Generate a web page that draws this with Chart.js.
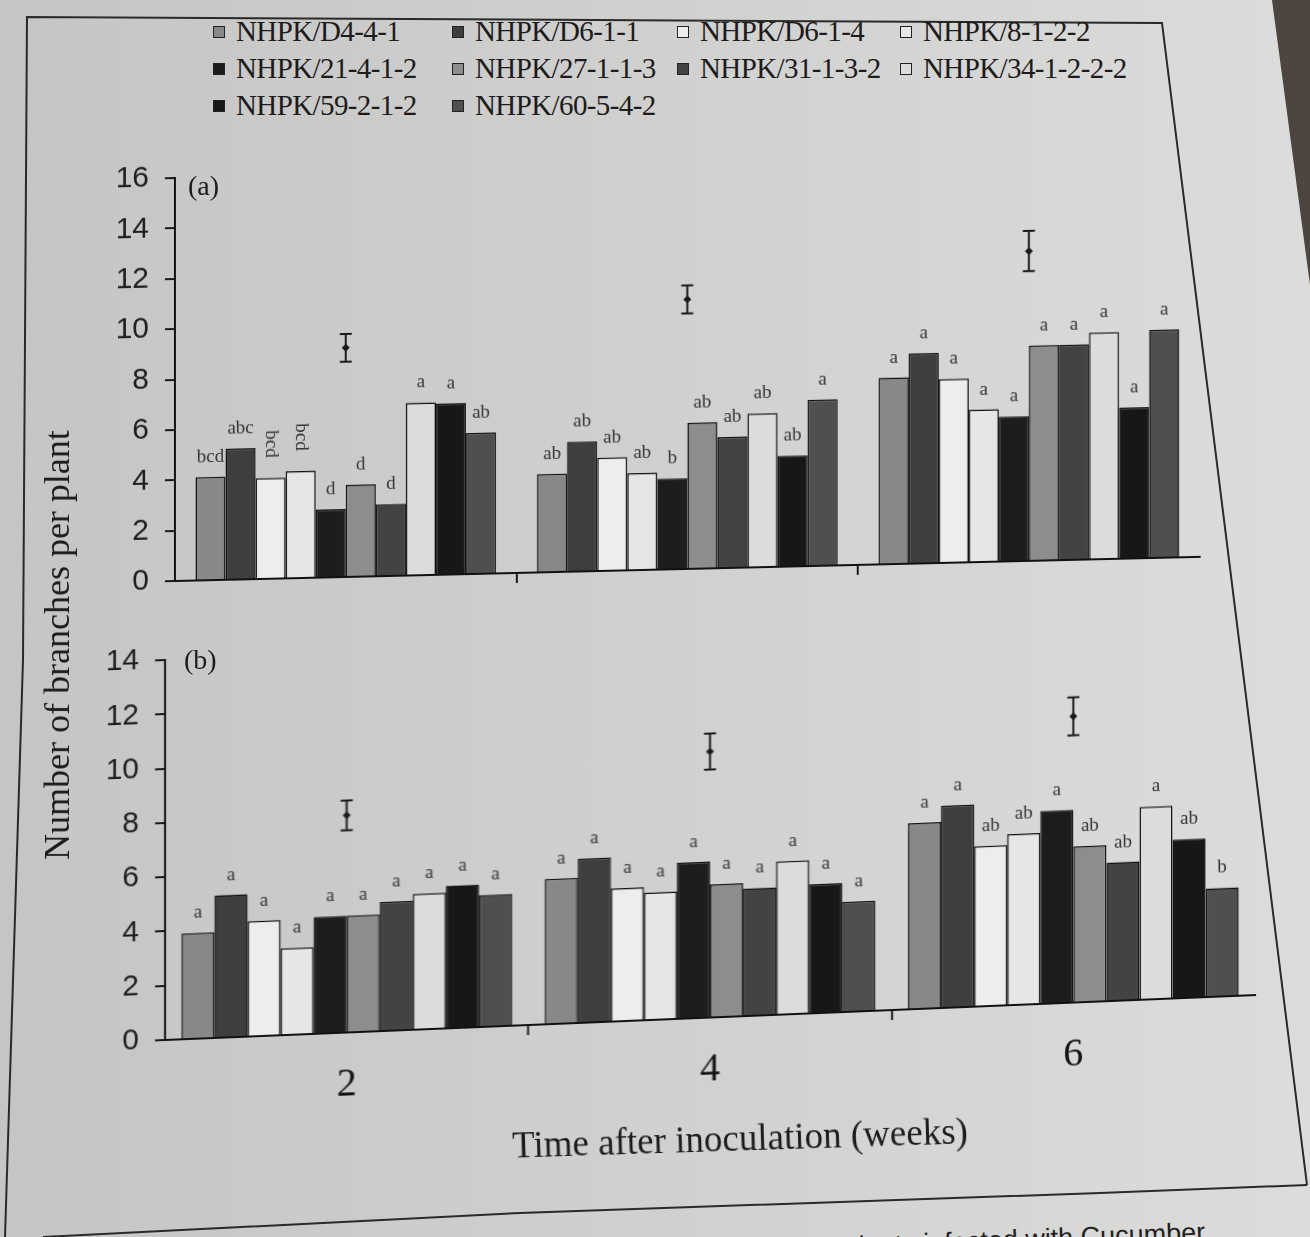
<!DOCTYPE html>
<html>
<head>
<meta charset="utf-8">
<script src="https://cdn.jsdelivr.net/npm/chart.js@4.4.0/dist/chart.umd.min.js"></script>
<style>
    html, body { margin: 0; padding: 0; }
    body {
        width: 1310px; height: 1237px; overflow: hidden; position: relative;
        background: linear-gradient(90deg, #c5c5c3 0%, #cfcfcd 45%, #dcdcda 100%);
        font-family: "Liberation Serif", serif; color: #1c1c1c;
    }
    #frame { position: absolute; left: 0; top: 0; }
    .legend {
        position: absolute; left: 213px; top: 13px;
        display: grid; grid-template-columns: 239px 225px 223px 260px; grid-auto-rows: 37px;
        font-size: 29px;
    }
    .legend .item { display: flex; align-items: center; white-space: nowrap; letter-spacing: -0.6px; }
    .legend .sw { width: 10px; height: 10px; border: 1.5px solid #222; margin-right: 11px; flex: none; }
    .panel-label { position: absolute; font-size: 28px; }
    #wrapA { position: absolute; left: 0; top: 144px; width: 1230px; height: 471px;
        transform: skewY(-1.35deg); transform-origin: 175px 437px; }
    #wrapB { position: absolute; left: 0; top: 626px; width: 1290px; height: 499px;
        transform: skewY(-2.36deg); transform-origin: 165px 414px; }
    #ytitle { position: absolute; left: 57px; top: 645px; transform: translate(-50%, -50%) rotate(-90deg);
        font-size: 36px; white-space: nowrap; }
    #xtitle { position: absolute; left: 740px; top: 1138px; transform: translate(-50%, -50%) rotate(-1.8deg);
        font-size: 37px; white-space: nowrap; }
    #caption { position: absolute; right: 105px; top: 1219px; font-family: "Liberation Sans", sans-serif;
        font-size: 27px; line-height: 1; white-space: nowrap; color: #222;
        transform: rotate(-2.3deg); transform-origin: right top; }
</style>
</head>
<body>
<svg id="frame" width="1310" height="1237">
    <polygon points="1272,0 1310,0 1310,285" fill="#4d4640"/>
    <polyline points="5,1237 23,660 27,17 1162,23 1307,1185" fill="none" stroke="#2a2a2a" stroke-width="2"/>
    <polyline points="43,1237 520,1213 1100,1193 1307,1185" fill="none" stroke="#2a2a2a" stroke-width="2"/>
</svg>

<div class="legend" id="legend"></div>

<div id="wrapA"><canvas id="chartA" width="1230" height="471"></canvas></div>
<div id="wrapB"><canvas id="chartB" width="1290" height="499"></canvas></div>

<div class="panel-label" style="left:188px; top:170px;">(a)</div>
<div class="panel-label" style="left:184px; top:644px;">(b)</div>
<div id="ytitle">Number of branches per plant</div>
<div id="xtitle">Time after inoculation (weeks)</div>
<div id="caption">plants infected with Cucumber</div>

<script>
const weeks = ['2', '4', '6'];
const isolates = ['NHPK/D4-4-1', 'NHPK/D6-1-1', 'NHPK/D6-1-4', 'NHPK/8-1-2-2', 'NHPK/21-4-1-2',
    'NHPK/27-1-1-3', 'NHPK/31-1-3-2', 'NHPK/34-1-2-2-2', 'NHPK/59-2-1-2', 'NHPK/60-5-4-2'];

// panel (a): one array per week, one value per isolate
const branchesA_w2 = [4.1, 5.2, 4.0, 4.25, 2.7, 3.65, 2.85, 6.85, 6.8, 5.6];
const branchesA_w4 = [3.9, 5.15, 4.5, 3.85, 3.6, 5.8, 5.2, 6.1, 4.4, 6.6];
const branchesA_w6 = [7.4, 8.35, 7.3, 6.05, 5.75, 8.55, 8.55, 9.0, 6.0, 9.05];
// panel (b)
const branchesB_w2 = [3.9, 5.25, 4.25, 3.2, 4.3, 4.3, 4.75, 5.0, 5.25, 4.85];
const branchesB_w4 = [5.35, 6.05, 4.9, 4.7, 5.75, 4.9, 4.7, 5.65, 4.75, 4.05];
const branchesB_w6 = [6.85, 7.45, 5.9, 6.3, 7.1, 5.75, 5.1, 7.1, 5.85, 4.0];

// significance letters
const lettersA_w2 = ['bcd', 'abc', 'bcd', 'bcd', 'd', 'd', 'd', 'a', 'a', 'ab'];
const lettersA_w4 = ['ab', 'ab', 'ab', 'ab', 'b', 'ab', 'ab', 'ab', 'ab', 'a'];
const lettersA_w6 = ['a', 'a', 'a', 'a', 'a', 'a', 'a', 'a', 'a', 'a'];
const lettersB_w2 = ['a', 'a', 'a', 'a', 'a', 'a', 'a', 'a', 'a', 'a'];
const lettersB_w4 = ['a', 'a', 'a', 'a', 'a', 'a', 'a', 'a', 'a', 'a'];
const lettersB_w6 = ['a', 'a', 'ab', 'ab', 'a', 'ab', 'ab', 'a', 'ab', 'b'];

// LSD bars drawn above each week group
const lsdA_mid = [9.1, 10.7, 12.3];
const lsdA_half = [0.55, 0.56, 0.8];
const lsdB_mid = [8.0, 9.8, 10.55];
const lsdB_half = [0.55, 0.66, 0.7];

const yTicksA = { min: 0, max: 16, step: 2 };
const yTicksB = { min: 0, max: 14, step: 2 };

const fills = ['#888888', '#3e3e3e', '#ededed', '#e6e6e6', '#1d1d1d',
    '#8d8d8d', '#434343', '#dcdcdc', '#171717', '#4f4f4f'];

// legend
const legendEl = document.getElementById('legend');
isolates.forEach(function(name, i) {
    const item = document.createElement('div');
    item.className = 'item';
    item.innerHTML = '<span class="sw" style="background:' + fills[i] + '"></span>' + name;
    legendEl.appendChild(item);
});

function byIsolate(perWeek) {
    return isolates.map(function(_, i) {
        return perWeek.map(function(w) { return w[i]; });
    });
}

const letterMarks = {
    id: 'letterMarks',
    afterDatasetsDraw(chart, args, opts) {
        const ctx = chart.ctx;
        ctx.save();
        ctx.font = '19px "Liberation Serif"';
        ctx.fillStyle = '#333';
        ctx.textAlign = 'center';
        chart.data.datasets.forEach(function(ds, i) {
            chart.getDatasetMeta(i).data.forEach(function(bar, j) {
                const txt = opts.labels[i][j];
                const upright = opts.rotated.some(function(p) { return p[0] === j && p[1] === i; });
                if (upright) {
                    ctx.save();
                    ctx.translate(bar.x, bar.y - 34);
                    ctx.rotate(Math.PI / 2);
                    ctx.textBaseline = 'middle';
                    ctx.fillText(txt, 0, 0);
                    ctx.restore();
                } else {
                    ctx.textBaseline = 'alphabetic';
                    ctx.fillText(txt, bar.x, bar.y - 15);
                }
            });
        });
        ctx.restore();
    }
};

const lsdBars = {
    id: 'lsdBars',
    afterDatasetsDraw(chart, args, opts) {
        const ctx = chart.ctx;
        const xs = chart.scales.x, ys = chart.scales.y;
        ctx.save();
        ctx.strokeStyle = '#1a1a1a';
        ctx.fillStyle = '#1a1a1a';
        ctx.lineWidth = 2;
        opts.mid.forEach(function(m, j) {
            const px = xs.getPixelForValue(j);
            const top = ys.getPixelForValue(m + opts.half[j]);
            const bot = ys.getPixelForValue(m - opts.half[j]);
            const c = ys.getPixelForValue(m);
            ctx.beginPath();
            ctx.moveTo(px, top); ctx.lineTo(px, bot);
            ctx.moveTo(px - 6, top); ctx.lineTo(px + 6, top);
            ctx.moveTo(px - 6, bot); ctx.lineTo(px + 6, bot);
            ctx.stroke();
            ctx.beginPath();
            ctx.moveTo(px, c - 4); ctx.lineTo(px + 4, c); ctx.lineTo(px, c + 4); ctx.lineTo(px - 4, c);
            ctx.closePath();
            ctx.fill();
        });
        ctx.restore();
    }
};

function makeChart(id, values, labels, rotated, lsdMid, lsdHalf, yt, cfg) {
    const data = byIsolate(values);
    return new Chart(document.getElementById(id), {
        type: 'bar',
        data: {
            labels: weeks,
            datasets: isolates.map(function(name, i) {
                return {
                    label: name,
                    data: data[i],
                    backgroundColor: fills[i],
                    borderColor: '#111',
                    borderWidth: 1.5,
                    barPercentage: 1.0,
                    categoryPercentage: cfg.catPct
                };
            })
        },
        options: {
            responsive: false,
            animation: false,
            devicePixelRatio: 1,
            layout: { padding: { top: 0, right: cfg.padRight, left: 0, bottom: 0 } },
            plugins: {
                legend: { display: false },
                tooltip: { enabled: false },
                letterMarks: { labels: byIsolate(labels), rotated: rotated },
                lsdBars: { mid: lsdMid, half: lsdHalf }
            },
            scales: {
                x: {
                    grid: {
                        offset: true,
                        drawOnChartArea: false,
                        drawTicks: true,
                        tickLength: 10,
                        lineWidth: 2,
                        color: function(c) { return (c.index > 0 && c.index < weeks.length) ? '#1a1a1a' : 'rgba(0,0,0,0)'; }
                    },
                    border: { display: true, color: '#111', width: 2 },
                    ticks: {
                        display: cfg.showX,
                        color: '#111',
                        padding: 18,
                        font: { family: 'Liberation Serif', size: 40 }
                    },
                    afterFit: function(scale) { scale.height = cfg.xHeight; }
                },
                y: {
                    min: yt.min,
                    max: yt.max,
                    grid: { drawOnChartArea: false, drawTicks: true, tickLength: 10, lineWidth: 2, color: '#1a1a1a' },
                    border: { display: true, color: '#111', width: 2 },
                    ticks: {
                        stepSize: yt.step,
                        color: '#1e1e1e',
                        padding: 16,
                        font: { family: 'Liberation Sans', size: 30 }
                    },
                    afterFit: function(scale) { scale.width = cfg.yWidth; }
                }
            }
        },
        plugins: [letterMarks, lsdBars]
    });
}

makeChart('chartA',
    [branchesA_w2, branchesA_w4, branchesA_w6],
    [lettersA_w2, lettersA_w4, lettersA_w6],
    [[0, 2], [0, 3]],
    lsdA_mid, lsdA_half, yTicksA,
    { catPct: 0.88, padRight: 30, yWidth: 175, xHeight: 34, showX: false });

makeChart('chartB',
    [branchesB_w2, branchesB_w4, branchesB_w6],
    [lettersB_w2, lettersB_w4, lettersB_w6],
    [],
    lsdB_mid, lsdB_half, yTicksB,
    { catPct: 0.91, padRight: 35, yWidth: 165, xHeight: 85, showX: true });
</script>
</body>
</html>
